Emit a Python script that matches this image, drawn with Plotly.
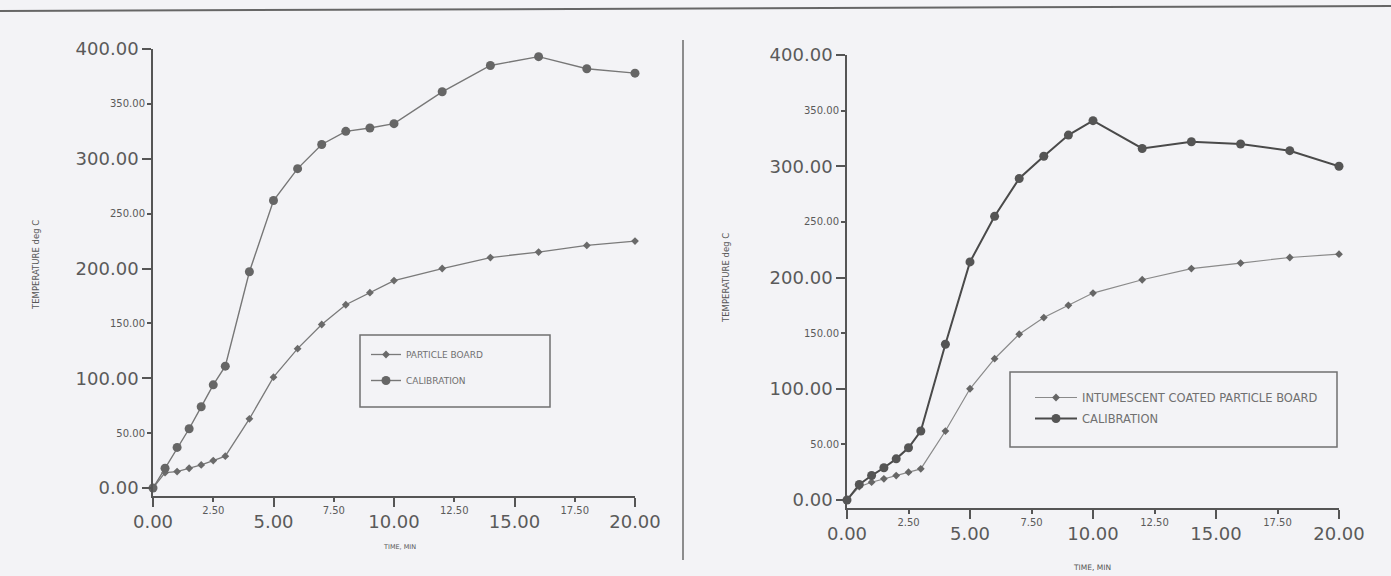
import plotly.graph_objects as go

# ---------------- data ----------------
time_min = [0, 0.5, 1, 1.5, 2, 2.5, 3, 4, 5, 6, 7, 8, 9, 10, 12, 14, 16, 18, 20]

particle_board = [0, 14, 15, 18, 21, 25, 29, 63, 101, 127, 149, 167, 178, 189, 200, 210, 215, 221, 225]
calibration_left = [0, 18, 37, 54, 74, 94, 111, 197, 262, 291, 313, 325, 328, 332, 361, 385, 393, 382, 378]

intumescent_board = [0, 12, 16, 19, 22, 25, 28, 62, 100, 127, 149, 164, 175, 186, 198, 208, 213, 218, 221]
calibration_right = [0, 14, 22, 29, 37, 47, 62, 140, 214, 255, 289, 309, 328, 341, 316, 322, 320, 314, 300]

x_major = [0, 5, 10, 15, 20]
x_minor = [2.5, 7.5, 12.5, 17.5]
y_major = [0, 100, 200, 300, 400]
y_minor = [50, 150, 250, 350]
fmt = lambda v: f"{v:.2f}"

W, H = 1391, 576
BG = "#f3f3f6"
AX = "#555555"
FONT = "DejaVu Sans"

def px(x):
    return x / W

def py(y):
    return (H - y) / H

fig = go.Figure()

# left chart traces
fig.add_trace(go.Scatter(
    x=time_min, y=particle_board, name="PARTICLE BOARD", mode="lines+markers",
    line=dict(color="#7a7a7a", width=1.3),
    marker=dict(symbol="diamond", size=6, color="#6a6a6a"),
    xaxis="x", yaxis="y", legend="legend", legendgroup="a", cliponaxis=False))
fig.add_trace(go.Scatter(
    x=time_min, y=calibration_left, name="CALIBRATION", mode="lines+markers",
    line=dict(color="#777777", width=1.4),
    marker=dict(symbol="circle", size=9, color="#666666"),
    xaxis="x", yaxis="y", legend="legend", legendgroup="b", cliponaxis=False))

# right chart traces
fig.add_trace(go.Scatter(
    x=time_min, y=intumescent_board, name="INTUMESCENT COATED PARTICLE BOARD", mode="lines+markers",
    line=dict(color="#8a8a8a", width=1.2),
    marker=dict(symbol="diamond", size=6, color="#666666"),
    xaxis="x2", yaxis="y2", legend="legend2", legendgroup="c", cliponaxis=False))
fig.add_trace(go.Scatter(
    x=time_min, y=calibration_right, name="CALIBRATION", mode="lines+markers",
    line=dict(color="#4a4a4a", width=2),
    marker=dict(symbol="circle", size=9, color="#555555"),
    xaxis="x2", yaxis="y2", legend="legend2", legendgroup="d", cliponaxis=False))

# dummy traces so the overlay (minor-label) axes are drawn
for xa, ya in [("x3", "y"), ("x", "y3"), ("x4", "y2"), ("x2", "y4")]:
    fig.add_trace(go.Scatter(x=[None], y=[None], xaxis=xa, yaxis=ya,
                             showlegend=False, hoverinfo="skip"))

major_font = dict(family=FONT, size=18, color="#5a5a5a")
minor_font = dict(family=FONT, size=10, color="#5a5a5a")

def xax(domain, anchor, vals, font, ticklen, overlay=None):
    d = dict(range=[0, 20], tickmode="array", tickvals=vals, ticktext=[fmt(v) for v in vals],
             ticks="outside", ticklen=ticklen, tickwidth=1.5, tickcolor=AX,
             tickfont=font, showgrid=False, zeroline=False, anchor=anchor,
             fixedrange=True, automargin=False)
    if overlay:
        d.update(overlaying=overlay, showline=False, side="bottom")
    else:
        d.update(domain=domain, showline=True, linecolor=AX, linewidth=1.6)
    return d

def yax(domain, anchor, vals, font, ticklen, overlay=None):
    d = dict(range=[-7, 400], tickmode="array", tickvals=vals, ticktext=[fmt(v) for v in vals],
             ticks="outside", ticklen=ticklen, tickwidth=1.5, tickcolor=AX,
             tickfont=font, showgrid=False, zeroline=False, anchor=anchor,
             fixedrange=True, automargin=False)
    if overlay:
        d.update(overlaying=overlay, showline=False, side="left")
    else:
        d.update(domain=domain, showline=True, linecolor=AX, linewidth=1.6)
    return d

L_x = [px(153), px(635)]
L_y = [py(495.7), py(49)]
R_x = [px(847), px(1339)]
R_y = [py(507.8), py(55)]

fig.update_layout(
    width=W, height=H, autosize=False,
    margin=dict(l=0, r=0, t=0, b=0, pad=0, autoexpand=False),
    paper_bgcolor=BG, plot_bgcolor=BG,
    xaxis=xax(L_x, "y", x_major, major_font, 9),
    yaxis=yax(L_y, "x", y_major, major_font, 9),
    xaxis3=xax(None, "y", x_minor, minor_font, 5, overlay="x"),
    yaxis3=yax(None, "x", y_minor, minor_font, 5, overlay="y"),
    xaxis2=xax(R_x, "y2", x_major, major_font, 9),
    yaxis2=yax(R_y, "x2", y_major, major_font, 9),
    xaxis4=xax(None, "y2", x_minor, minor_font, 5, overlay="x2"),
    yaxis4=yax(None, "x2", y_minor, minor_font, 5, overlay="y2"),
    legend=dict(x=px(366), y=py(340), xanchor="left", yanchor="top",
                bgcolor="rgba(0,0,0,0)", borderwidth=0,
                font=dict(family=FONT, size=9, color="#707070"),
                itemwidth=30, tracegroupgap=7),
    legend2=dict(x=px(1030), y=py(383), xanchor="left", yanchor="top",
                 bgcolor="rgba(0,0,0,0)", borderwidth=0,
                 font=dict(family=FONT, size=11.5, color="#707070"),
                 itemwidth=42, tracegroupgap=2),
    showlegend=True,
)

shapes = [
    # legend boxes
    dict(type="rect", xref="paper", yref="paper", x0=px(360), x1=px(550), y0=py(407), y1=py(335),
         line=dict(color="#707070", width=1.5)),
    dict(type="rect", xref="paper", yref="paper", x0=px(1010), x1=px(1337), y0=py(447), y1=py(372),
         line=dict(color="#707070", width=1.5)),
    # divider between the two panels
    dict(type="line", xref="paper", yref="paper", x0=px(683), x1=px(683), y0=py(560), y1=py(40),
         line=dict(color="#6a6a6a", width=1.5)),
    # top page edge
    dict(type="line", xref="paper", yref="paper", x0=0, x1=1, y0=py(11), y1=py(6),
         line=dict(color="#666666", width=2)),
]
fig.update_layout(shapes=shapes)

def note(text, x, y, size, angle=0):
    return dict(text=text, x=px(x), y=py(y), xref="paper", yref="paper",
                xanchor="center", yanchor="middle", textangle=angle, showarrow=False,
                font=dict(family=FONT, size=size, color="#555555"))

annotations = [
    note("TEMPERATURE deg C", 36, 265, 8.5, -90),
    note("TEMPERATURE deg C", 726, 278, 8.5, -90),
    note("TIME, MIN", 399, 547, 6.5),
    note("TIME, MIN", 1092, 567, 7.5),
]
fig.update_layout(annotations=annotations)

fig.write_html(
    "out.html",
    config={"responsive": False, "displayModeBar": False},
    post_script="document.body.style.margin='0';document.body.style.overflow='hidden';",
)
